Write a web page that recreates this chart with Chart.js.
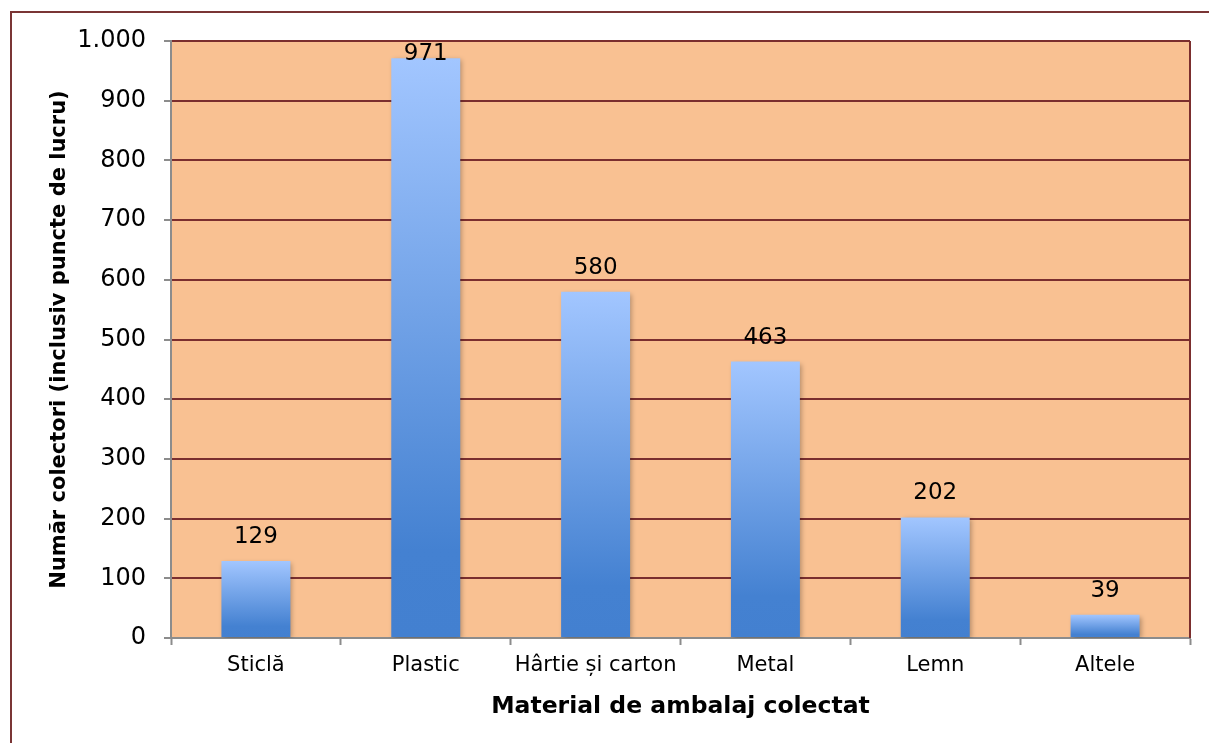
<!DOCTYPE html>
<html>
<head>
<meta charset="utf-8">
<script src="https://cdn.jsdelivr.net/npm/chart.js@4.4.1/dist/chart.umd.min.js"></script>
<style>
  html, body { margin: 0; padding: 0; background: #ffffff; }
  #wrap { width: 1209px; height: 743px; position: relative; }
</style>
</head>
<body>
<div id="wrap"><canvas id="c" width="1209" height="743"></canvas></div>
<script>
const categories = ['Sticlă', 'Plastic', 'Hârtie și carton', 'Metal', 'Lemn', 'Altele'];
const collectors = [129, 971, 580, 463, 202, 39];
const yTickValues = [0, 100, 200, 300, 400, 500, 600, 700, 800, 900, 1000];
const yTickLabels = ['0', '100', '200', '300', '400', '500', '600', '700', '800', '900', '1.000'];
const xTitle = 'Material de ambalaj colectat';
const yTitle = 'Număr colectori (inclusiv puncte de lucru)';

const FONT = "'DejaVu Sans', Verdana, sans-serif";
const BROWN = '#7B2E2E';
const AXIS_GREY = '#8C8C8C';
const PLOT_BG = '#F9C192';

const framePlugin = {
  id: 'framePlugin',
  beforeDraw(chart) {
    const ctx = chart.ctx;
    const a = chart.chartArea;
    ctx.save();
    ctx.fillStyle = '#ffffff';
    ctx.fillRect(0, 0, chart.width, chart.height);
    ctx.strokeStyle = '#7A3535';
    ctx.lineWidth = 2;
    ctx.beginPath();
    ctx.moveTo(11, chart.height + 5);
    ctx.lineTo(11, 12);
    ctx.lineTo(chart.width + 5, 12);
    ctx.stroke();
    ctx.fillStyle = PLOT_BG;
    ctx.fillRect(a.left, a.top, a.right - a.left, a.bottom - a.top);
    ctx.restore();
  },
  afterDraw(chart) {
    const ctx = chart.ctx;
    const a = chart.chartArea;
    ctx.save();
    ctx.strokeStyle = BROWN;
    ctx.lineWidth = 2;
    ctx.beginPath();
    ctx.moveTo(a.right, a.top);
    ctx.lineTo(a.right, a.bottom);
    ctx.stroke();
    ctx.restore();
  }
};

const shadowPlugin = {
  id: 'shadowPlugin',
  beforeDatasetsDraw(chart) {
    const ctx = chart.ctx;
    ctx.save();
    ctx.shadowColor = 'rgba(0,0,0,0.28)';
    ctx.shadowBlur = 5;
    ctx.shadowOffsetX = 2;
    ctx.shadowOffsetY = 2;
  },
  afterDatasetsDraw(chart) {
    chart.ctx.restore();
  }
};

const labelPlugin = {
  id: 'labelPlugin',
  afterDatasetsDraw(chart) {
    const ctx = chart.ctx;
    const a = chart.chartArea;
    const meta = chart.getDatasetMeta(0);
    const data = chart.data.datasets[0].data;
    ctx.save();
    ctx.font = '23px ' + FONT;
    ctx.fillStyle = '#000000';
    ctx.textAlign = 'center';
    ctx.textBaseline = 'middle';
    meta.data.forEach((bar, i) => {
      const y = Math.max(bar.y - 24, a.top + 13);
      ctx.fillText(String(data[i]), bar.x, y);
    });
    ctx.restore();
  }
};

function barGradient(context) {
  const chart = context.chart;
  const a = chart.chartArea;
  if (!a || context.dataIndex === undefined) return '#6A9BE0';
  const ys = chart.scales.y;
  const v = context.dataset.data[context.dataIndex];
  const top = ys.getPixelForValue(v);
  const bottom = ys.getPixelForValue(0);
  const g = chart.ctx.createLinearGradient(0, top, 0, bottom);
  g.addColorStop(0, '#A2C6FF');
  g.addColorStop(0.85, '#4481D1');
  g.addColorStop(1, '#4380D0');
  return g;
}

new Chart(document.getElementById('c'), {
  type: 'bar',
  data: {
    labels: categories,
    datasets: [{
      data: collectors,
      backgroundColor: barGradient,
      borderWidth: 0,
      barPercentage: 0.406,
      categoryPercentage: 1.0
    }]
  },
  options: {
    responsive: false,
    animation: false,
    devicePixelRatio: 1,
    layout: { padding: { top: 41, right: 19, left: 0, bottom: 0 } },
    plugins: {
      legend: { display: false },
      tooltip: { enabled: false }
    },
    scales: {
      x: {
        grid: {
          display: true,
          drawOnChartArea: false,
          drawTicks: true,
          tickLength: 7,
          tickColor: AXIS_GREY,
          tickWidth: 2,
          offset: true
        },
        border: { display: true, color: AXIS_GREY, width: 2 },
        ticks: {
          color: '#000000',
          font: { family: FONT, size: 21 },
          padding: 8,
          maxRotation: 0,
          autoSkip: false
        },
        title: {
          display: true,
          text: xTitle,
          color: '#000000',
          font: { family: FONT, size: 23.5, weight: 'bold' },
          padding: { top: 0, bottom: 22 }
        },
        afterFit(scale) { scale.height = 105; }
      },
      y: {
        min: 0,
        max: 1000,
        afterBuildTicks(scale) {
          scale.ticks = yTickValues.map(v => ({ value: v }));
        },
        grid: {
          color: (ctx) => (ctx.tick && ctx.tick.value === 0) ? 'rgba(0,0,0,0)' : BROWN,
          lineWidth: 2,
          drawTicks: true,
          tickLength: 7,
          tickColor: AXIS_GREY,
          tickWidth: 2
        },
        border: { display: true, color: AXIS_GREY, width: 2 },
        ticks: {
          color: '#000000',
          font: { family: FONT, size: 24 },
          padding: 18,
          callback: (value) => {
            const i = yTickValues.indexOf(value);
            return i >= 0 ? yTickLabels[i] : '';
          }
        },
        title: {
          display: true,
          text: yTitle,
          color: '#000000',
          font: { family: FONT, size: 21, weight: 'bold' },
          padding: { top: 47, bottom: 0 }
        },
        afterFit(scale) { scale.width = 171; }
      }
    }
  },
  plugins: [framePlugin, shadowPlugin, labelPlugin]
});
</script>
</body>
</html>
